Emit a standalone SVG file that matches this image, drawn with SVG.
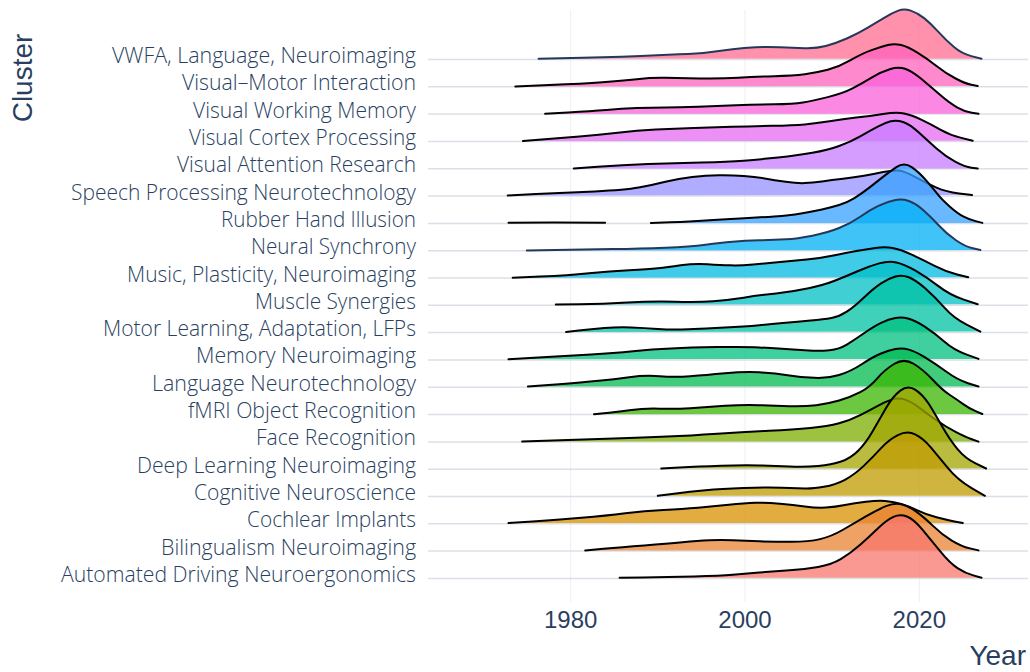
<svg xmlns="http://www.w3.org/2000/svg" width="1030" height="672" viewBox="0 0 1030 672">
<style>
.lbl{font-family:"Open Sans","Noto Sans",sans-serif;font-weight:300;font-size:22px;fill:#2a3f5f;text-anchor:end}
.tick{font-family:"Liberation Sans",Arial,sans-serif;font-size:24px;fill:#2a3f5f;text-anchor:middle}
.ttl{font-family:"Liberation Sans",Arial,sans-serif;font-size:28px;fill:#2a3f5f}
.r{stroke:#000;stroke-width:2;fill-opacity:0.75;stroke-linejoin:round;stroke-linecap:round}
.nv{stroke:#26385a}
.hg{stroke:#dcdfe7;stroke-width:1.5}
.vg{stroke:#eceef3;stroke-width:1}
</style>
<rect width="1030" height="672" fill="#fff"/>
<g id="grid">
<line class="vg" x1="570.7" y1="10" x2="570.7" y2="602"/>
<line class="vg" x1="745" y1="10" x2="745" y2="602"/>
<line class="vg" x1="919.3" y1="10" x2="919.3" y2="602"/>
<line class="hg" x1="428" y1="59.5" x2="1028" y2="59.5"/>
<line class="hg" x1="428" y1="86.8" x2="1028" y2="86.8"/>
<line class="hg" x1="428" y1="114.1" x2="1028" y2="114.1"/>
<line class="hg" x1="428" y1="141.4" x2="1028" y2="141.4"/>
<line class="hg" x1="428" y1="168.8" x2="1028" y2="168.8"/>
<line class="hg" x1="428" y1="196.1" x2="1028" y2="196.1"/>
<line class="hg" x1="428" y1="223.4" x2="1028" y2="223.4"/>
<line class="hg" x1="428" y1="250.7" x2="1028" y2="250.7"/>
<line class="hg" x1="428" y1="278" x2="1028" y2="278"/>
<line class="hg" x1="428" y1="305.3" x2="1028" y2="305.3"/>
<line class="hg" x1="428" y1="332.6" x2="1028" y2="332.6"/>
<line class="hg" x1="428" y1="359.9" x2="1028" y2="359.9"/>
<line class="hg" x1="428" y1="387.2" x2="1028" y2="387.2"/>
<line class="hg" x1="428" y1="414.5" x2="1028" y2="414.5"/>
<line class="hg" x1="428" y1="441.9" x2="1028" y2="441.9"/>
<line class="hg" x1="428" y1="469.2" x2="1028" y2="469.2"/>
<line class="hg" x1="428" y1="496.5" x2="1028" y2="496.5"/>
<line class="hg" x1="428" y1="523.8" x2="1028" y2="523.8"/>
<line class="hg" x1="428" y1="551.1" x2="1028" y2="551.1"/>
<line class="hg" x1="428" y1="578.4" x2="1028" y2="578.4"/>
</g>
<g id="ridges">
<g id="vwfa" transform="translate(0,59.5)">
<text class="lbl" x="416" y="3.5" textLength="304" lengthAdjust="spacingAndGlyphs">VWFA, Language, Neuroimaging</text>
<path class="r nv" fill="#FF6C91" d="M538.6,-0.7 L561,-1.35 Q583.3,-2 602.4,-2.35 Q621.5,-2.7 640.6,-3.5 Q659.7,-4.3 678.8,-5.15 Q697.8,-6 709.3,-7.35 Q720.8,-8.7 732.6,-10.2 Q744.4,-11.7 755.5,-12.2 Q766.6,-12.7 780,-12.2 Q793.3,-11.7 804.8,-11.35 Q816.2,-11 825.8,-13.5 Q835.3,-16 846.8,-21 Q858.2,-26 867.8,-31.85 Q877.3,-37.7 885,-42.2 Q892.6,-46.7 898.3,-48.85 Q904,-51 910.7,-48.85 Q917.4,-46.7 924.1,-41.35 Q930.7,-36 938.4,-27.65 Q946,-19.3 953.7,-12.65 Q961.3,-6 971.4,-3.35 L981.5,-0.7"/>
</g>
<g id="visual-motor" transform="translate(0,86.8)">
<text class="lbl" x="416" y="3.5" textLength="234" lengthAdjust="spacingAndGlyphs">Visual–Motor Interaction</text>
<path class="r" fill="#FF62BC" d="M515.3,-0.3 L549.3,-1.8 Q583.3,-3.3 602.4,-4.65 Q621.5,-6 636.8,-7.65 Q652,-9.3 665.4,-9 Q678.8,-8.7 699.8,-8.35 Q720.8,-8 738,-9 Q755.1,-10 774.2,-10.65 Q793.3,-11.3 804.8,-12.65 Q816.2,-14 827.7,-17 Q839.1,-20 850.6,-26.65 Q862,-33.3 871.6,-36.65 Q881.1,-40 887.8,-41.75 Q894.5,-43.5 901.2,-41.75 Q907.9,-40 917.4,-34.15 Q926.9,-28.3 936.5,-20.8 Q946,-13.3 955.6,-8.3 Q965.1,-3.3 971.4,-2 L977.7,-0.7"/>
</g>
<g id="visual-working-memory" transform="translate(0,114.1)">
<text class="lbl" x="416" y="3.5" textLength="223" lengthAdjust="spacingAndGlyphs">Visual Working Memory</text>
<path class="r" fill="#FA62DB" d="M545.1,-0.3 L568.1,-1.65 Q591,-3 606.3,-4.15 Q621.5,-5.3 636.8,-6 Q652,-6.7 665.4,-6.7 Q678.8,-6.7 697.9,-7.35 Q716.9,-8 736,-8.85 Q755.1,-9.7 774.2,-9.85 Q793.3,-10 802.9,-11.65 Q812.4,-13.3 827.7,-17 Q842.9,-20.7 852.5,-25.7 Q862,-30.7 871.6,-36.5 Q881.1,-42.3 889.7,-44.9 Q898.3,-47.5 905,-45.4 Q911.7,-43.3 921.2,-35.3 Q930.7,-27.3 940.3,-19 Q949.8,-10.7 957.5,-6.5 Q965.1,-2.3 971.8,-1.3 L978.5,-0.3"/>
</g>
<g id="visual-cortex" transform="translate(0,141.4)">
<text class="lbl" x="416" y="3.5" textLength="227" lengthAdjust="spacingAndGlyphs">Visual Cortex Processing</text>
<path class="r" fill="#E76BF3" d="M523,-0.3 L541.7,-1.8 Q560.4,-3.3 579.5,-5 Q598.6,-6.7 617.7,-8.7 Q636.8,-10.7 655.9,-11.85 Q674.9,-13 694,-13.5 Q713.1,-14 732.2,-14.65 Q751.3,-15.3 772.3,-15.65 Q793.3,-16 804.8,-17 Q816.2,-18 829.6,-20.15 Q842.9,-22.3 856.3,-23.8 Q869.7,-25.3 883.1,-27.4 Q896.4,-29.5 904.1,-27.9 Q911.7,-26.3 921.2,-21.8 Q930.7,-17.3 940.3,-11.8 Q949.8,-6.3 961.3,-3.5 L972.7,-0.7"/>
</g>
<g id="visual-attention" transform="translate(0,168.8)">
<text class="lbl" x="416" y="3.5" textLength="239" lengthAdjust="spacingAndGlyphs">Visual Attention Research</text>
<path class="r" fill="#C77CFF" d="M573.8,-0.3 L597.7,-2 Q621.5,-3.7 648.2,-4.7 Q674.9,-5.7 701.7,-6.2 Q728.4,-6.7 743.7,-8 Q758.9,-9.3 778,-11.3 Q797.1,-13.3 812.4,-16 Q827.6,-18.7 839.1,-22.85 Q850.6,-27 860.2,-32.5 Q869.7,-38 877.3,-42 Q884.9,-46 890.7,-47.5 Q896.4,-49 903.1,-46.85 Q909.7,-44.7 918.3,-36.7 Q926.9,-28.7 936.5,-20.35 Q946,-12 955.6,-7 Q965.1,-2 971.4,-1.15 L977.7,-0.3"/>
</g>
<g id="speech" transform="translate(0,196.1)">
<text class="lbl" x="416" y="3.5" textLength="345" lengthAdjust="spacingAndGlyphs">Speech Processing Neurotechnology</text>
<path class="r" fill="#9590FF" d="M507.7,-0.7 L536,-2 Q564.2,-3.3 594.8,-4.65 Q625.3,-6 638.7,-8.5 Q652,-11 665.4,-14.35 Q678.8,-17.7 692.2,-19.2 Q705.5,-20.7 718.9,-20.85 Q732.2,-21 743.7,-20.15 Q755.1,-19.3 764.7,-17.65 Q774.2,-16 785.7,-14.35 Q797.1,-12.7 804.8,-13 Q812.4,-13.3 822,-14.65 Q831.5,-16 843,-17.35 Q854.4,-18.7 864,-20.35 Q873.5,-22 883.1,-24 Q892.6,-26 898.3,-25.65 Q904,-25.3 915.5,-19 Q926.9,-12.7 936.5,-8.5 Q946,-4.3 959,-2.65 L972,-1"/>
</g>
<g id="rubber-hand" transform="translate(0,223.4)">
<text class="lbl" x="416" y="3.5" textLength="195" lengthAdjust="spacingAndGlyphs">Rubber Hand Illusion</text>
<path class="r" fill="none" d="M508.5,-0.7 Q556.8,-1.3 605.1,-0.6"/>
<path class="r" fill="#35A2FF" d="M650.9,-0.5 L670.6,-1.1 Q690.2,-1.7 705.5,-2.85 Q720.8,-4 739.9,-5 Q758.9,-6 774.2,-7 Q789.5,-8 801,-10 Q812.4,-12 822,-14 Q831.5,-16 839.1,-18.35 Q846.7,-20.7 854.4,-25.35 Q862,-30 869.7,-36 Q877.3,-42 883,-46.5 Q888.7,-51 896.4,-56.25 Q904,-61.5 911.7,-56.25 Q919.3,-51 927,-42 Q934.6,-33 938.4,-28.2 Q942.2,-23.4 949.9,-16.7 Q957.5,-10 963.2,-7 Q968.9,-4 975.6,-2.25 L982.3,-0.5"/>
</g>
<g id="neural-synchrony" transform="translate(0,250.7)">
<text class="lbl" x="416" y="3.5" textLength="165" lengthAdjust="spacingAndGlyphs">Neural Synchrony</text>
<path class="r nv" fill="#00B0F6" d="M526.8,-0.3 L555.1,-0.8 Q583.3,-1.3 612,-1.65 Q640.6,-2 665.4,-3 Q690.2,-4 705.5,-6 Q720.8,-8 732.6,-9 Q744.4,-10 759.3,-10.35 Q774.2,-10.7 785.7,-11.35 Q797.1,-12 812.4,-15 Q827.6,-18 839.1,-22.65 Q850.6,-27.3 860.2,-34 Q869.7,-40.7 878.3,-44.85 Q886.8,-49 894.5,-50.5 Q902.1,-52 908.8,-49.65 Q915.5,-47.3 923.1,-40.65 Q930.7,-34 938.4,-25.65 Q946,-17.3 955.6,-10.65 Q965.1,-4 972.8,-2.35 L980.4,-0.7"/>
</g>
<g id="music" transform="translate(0,278)">
<text class="lbl" x="416" y="3.5" textLength="289" lengthAdjust="spacingAndGlyphs">Music, Plasticity, Neuroimaging</text>
<path class="r" fill="#00BAE0" d="M512.7,-0.3 L540.4,-1.5 Q568,-2.7 589,-4.85 Q610,-7 629.1,-7.85 Q648.2,-8.7 657.8,-9.7 Q667.3,-10.7 680.7,-12.7 Q694,-14.7 707.4,-13.85 Q720.8,-13 730.3,-12.65 Q739.8,-12.3 753.2,-13.5 Q766.6,-14.7 780,-16 Q793.3,-17.3 806.7,-18.5 Q820,-19.7 833.4,-22.5 Q846.7,-25.3 856.3,-27 Q865.8,-28.7 875.4,-30 Q884.9,-31.3 892.6,-30 Q900.2,-28.7 911.7,-23.35 Q923.1,-18 934.6,-12.15 Q946,-6.3 957.1,-3.5 L968.2,-0.7"/>
</g>
<g id="muscle-synergies" transform="translate(0,305.3)">
<text class="lbl" x="416" y="3.5" textLength="161" lengthAdjust="spacingAndGlyphs">Muscle Synergies</text>
<path class="r" fill="#00BFC4" d="M555.8,-0.7 L579.1,-1 Q602.4,-1.3 627.2,-2.8 Q652,-4.3 674.9,-3.65 Q697.8,-3 713.1,-4.15 Q728.4,-5.3 743.7,-7.65 Q758.9,-10 776.1,-11.85 Q793.3,-13.7 808.6,-17 Q823.8,-20.3 835.3,-24.8 Q846.7,-29.3 858.2,-34.3 Q869.7,-39.3 879.2,-41.9 Q888.7,-44.5 896.4,-42.9 Q904,-41.3 915.5,-34.65 Q926.9,-28 938.4,-19.15 Q949.8,-10.3 963.8,-5.65 L977.7,-1"/>
</g>
<g id="motor-learning" transform="translate(0,332.6)">
<text class="lbl" x="416" y="3.5" textLength="313" lengthAdjust="spacingAndGlyphs">Motor Learning, Adaptation, LFPs</text>
<path class="r" fill="#00C1A3" d="M566.1,-0.7 L578.6,-2 Q591,-3.3 604.4,-4.5 Q617.7,-5.7 631.1,-5.2 Q644.4,-4.7 657.8,-3.7 Q671.1,-2.7 688.3,-3.35 Q705.5,-4 725,-5 Q744.4,-6 759.3,-7.35 Q774.2,-8.7 785.7,-9.85 Q797.1,-11 810.5,-12.15 Q823.8,-13.3 831.5,-14.65 Q839.1,-16 846.8,-21 Q854.4,-26 864,-35.15 Q873.5,-44.3 881.1,-49.3 Q888.7,-54.3 895.4,-56.15 Q902.1,-58 908.8,-55.35 Q915.5,-52.7 925.1,-44.35 Q934.6,-36 944.2,-25.15 Q953.7,-14.3 967.1,-7.65 L980.4,-1"/>
</g>
<g id="memory-neuroimaging" transform="translate(0,359.9)">
<text class="lbl" x="416" y="3.5" textLength="220" lengthAdjust="spacingAndGlyphs">Memory Neuroimaging</text>
<path class="r" fill="#00BF7D" d="M508.5,-0.7 L538.3,-2.5 Q568,-4.3 591,-5.5 Q613.9,-6.7 633,-8.7 Q652,-10.7 671.1,-11.5 Q690.2,-12.3 717.3,-12.8 Q744.4,-13.3 759.3,-12.5 Q774.2,-11.7 785.7,-10.85 Q797.1,-10 808.6,-9.35 Q820,-8.7 829.6,-9.7 Q839.1,-10.7 846.8,-15.35 Q854.4,-20 864,-26.65 Q873.5,-33.3 881.1,-37 Q888.7,-40.7 895.4,-41.85 Q902.1,-43 908.8,-41.15 Q915.5,-39.3 925.1,-33 Q934.6,-26.7 944.2,-18.35 Q953.7,-10 966.1,-5.5 L978.5,-1"/>
</g>
<g id="language-neurotechnology" transform="translate(0,387.2)">
<text class="lbl" x="416" y="3.5" textLength="264" lengthAdjust="spacingAndGlyphs">Language Neurotechnology</text>
<path class="r" fill="#00BB4E" d="M527.9,-0.7 L555.6,-2.7 Q583.3,-4.7 598.6,-6.35 Q613.9,-8 629.2,-10 Q644.4,-12 659.7,-11 Q674.9,-10 690.2,-11 Q705.5,-12 725,-13.85 Q744.4,-15.7 759.3,-14.85 Q774.2,-14 787.6,-12 Q800.9,-10 814.3,-9.35 Q827.6,-8.7 839.1,-12.2 Q850.6,-15.7 862.1,-23.2 Q873.5,-30.7 881.1,-33.7 Q888.7,-36.7 895.4,-38.1 Q902.1,-39.5 908.8,-37.6 Q915.5,-35.7 925.1,-29.85 Q934.6,-24 946.1,-15.65 Q957.5,-7.3 968,-4 L978.5,-0.7"/>
</g>
<g id="fmri-object-recognition" transform="translate(0,414.5)">
<text class="lbl" x="416" y="3.5" textLength="228" lengthAdjust="spacingAndGlyphs">fMRI Object Recognition</text>
<path class="r" fill="#39B600" d="M594,-0.3 L604,-1.3 Q613.9,-2.3 629.2,-4.3 Q644.4,-6.3 659.7,-5.8 Q674.9,-5.3 690.2,-6.3 Q705.5,-7.3 725,-8.65 Q744.4,-10 759.3,-9.35 Q774.2,-8.7 789.5,-8.35 Q804.7,-8 816.2,-9.35 Q827.6,-10.7 839.1,-14 Q850.6,-17.3 860.2,-22.3 Q869.7,-27.3 877.3,-36.15 Q884.9,-45 894.5,-50.75 Q904,-56.5 913.6,-50.75 Q923.1,-45 932.7,-34.75 Q942.2,-24.5 949.9,-19.5 Q957.5,-14.5 963.2,-10.35 Q968.9,-6.2 975.6,-3.35 L982.3,-0.5"/>
</g>
<g id="face-recognition" transform="translate(0,441.9)">
<text class="lbl" x="416" y="3.5" textLength="160" lengthAdjust="spacingAndGlyphs">Face Recognition</text>
<path class="r" fill="#7CAE00" d="M522.2,-0.3 L552.8,-1.3 Q583.3,-2.3 613.9,-3.3 Q644.4,-4.3 667.3,-5.3 Q690.2,-6.3 717.3,-8.15 Q744.4,-10 768.9,-11.15 Q793.3,-12.3 810.5,-14 Q827.6,-15.7 839.1,-18.7 Q850.6,-21.7 860.2,-26.7 Q869.7,-31.7 877.3,-35.85 Q884.9,-40 891.6,-42.25 Q898.3,-44.5 905,-42.25 Q911.7,-40 919.3,-34.15 Q926.9,-28.3 936.5,-21.65 Q946,-15 955.6,-10 Q965.1,-5 971.8,-2.65 L978.5,-0.3"/>
</g>
<g id="deep-learning" transform="translate(0,469.2)">
<text class="lbl" x="416" y="3.5" textLength="279" lengthAdjust="spacingAndGlyphs">Deep Learning Neuroimaging</text>
<path class="r" fill="#A3A500" d="M661.2,-0.7 L679.5,-1.7 Q697.8,-2.7 721.1,-3.5 Q744.4,-4.3 759.3,-3.8 Q774.2,-3.3 789.5,-2.65 Q804.7,-2 818.1,-3.15 Q831.5,-4.3 841.1,-7.65 Q850.6,-11 858.2,-18.5 Q865.8,-26 872.5,-37.65 Q879.2,-49.3 885.9,-61 Q892.6,-72.7 900.3,-78.6 Q907.9,-84.5 915.5,-79.4 Q923.1,-74.3 928.9,-65.15 Q934.6,-56 942.2,-42.65 Q949.8,-29.3 957.5,-20.15 Q965.1,-11 975.6,-5.85 L986.1,-0.7"/>
</g>
<g id="cognitive-neuroscience" transform="translate(0,496.5)">
<text class="lbl" x="416" y="3.5" textLength="222" lengthAdjust="spacingAndGlyphs">Cognitive Neuroscience</text>
<path class="r" fill="#C09B00" d="M657.8,-0.7 L674,-2.85 Q690.2,-5 705.5,-6.35 Q720.8,-7.7 743.7,-8.5 Q766.6,-9.3 781.9,-8.8 Q797.1,-8.3 804.8,-8 Q812.4,-7.7 823.9,-9.7 Q835.3,-11.7 844.9,-16.7 Q854.4,-21.7 864,-30.85 Q873.5,-40 881.1,-48.35 Q888.7,-56.7 897.9,-61.35 Q907.1,-66 915.1,-62.15 Q923.1,-58.3 930.8,-49.15 Q938.4,-40 948,-28.35 Q957.5,-16.7 971.2,-8.7 L984.9,-0.7"/>
</g>
<g id="cochlear-implants" transform="translate(0,523.8)">
<text class="lbl" x="416" y="3.5" textLength="169" lengthAdjust="spacingAndGlyphs">Cochlear Implants</text>
<path class="r" fill="#D89000" d="M508.5,-0.7 L532.6,-2.35 Q556.6,-4 581.4,-6 Q606.2,-8 625.3,-10.5 Q644.4,-13 663.5,-13.85 Q682.6,-14.7 697.9,-16 Q713.1,-17.3 728.8,-19 Q744.4,-20.7 755.5,-21 Q766.6,-21.3 780,-20.15 Q793.3,-19 804.8,-17.35 Q816.2,-15.7 825.8,-16.2 Q835.3,-16.7 844.9,-18.7 Q854.4,-20.7 865.9,-22 Q877.3,-23.3 885,-22.8 Q892.6,-22.3 900.3,-20.15 Q907.9,-18 917.4,-13.5 Q926.9,-9 936.5,-6.5 Q946,-4 954.4,-2.35 L962.8,-0.7"/>
</g>
<g id="bilingualism-neuroimaging" transform="translate(0,551.1)">
<text class="lbl" x="416" y="3.5" textLength="255" lengthAdjust="spacingAndGlyphs">Bilingualism Neuroimaging</text>
<path class="r" fill="#EA8331" d="M585.2,-0.7 L603.4,-2.35 Q621.5,-4 644.4,-5.65 Q667.3,-7.3 682.6,-8.8 Q697.8,-10.3 709.3,-10.8 Q720.8,-11.3 732.6,-10.8 Q744.4,-10.3 759.3,-9.8 Q774.2,-9.3 791.4,-9.3 Q808.6,-9.3 820.1,-12 Q831.5,-14.7 843,-21.35 Q854.4,-28 865.9,-34.65 Q877.3,-41.3 885.9,-44.9 Q894.5,-48.5 901.2,-46.9 Q907.9,-45.3 915.5,-40 Q923.1,-34.7 932.7,-25.5 Q942.2,-16.3 951.8,-10.5 Q961.3,-4.7 969.9,-2.7 L978.5,-0.7"/>
</g>
<g id="automated-driving" transform="translate(0,578.4)">
<text class="lbl" x="416" y="3.5" textLength="355" lengthAdjust="spacingAndGlyphs">Automated Driving Neuroergonomics</text>
<path class="r" fill="#F8766D" d="M619.6,-0.7 L643.5,-1 Q667.3,-1.3 694.1,-2 Q720.8,-2.7 732.6,-3.7 Q744.4,-4.7 759.3,-5.85 Q774.2,-7 789.5,-8.15 Q804.7,-9.3 818.1,-11.5 Q831.5,-13.7 841.1,-19.5 Q850.6,-25.3 860.2,-33.65 Q869.7,-42 878.3,-50.35 Q886.8,-58.7 893.5,-61.6 Q900.2,-64.5 906.9,-61.9 Q913.6,-59.3 922.2,-49 Q930.7,-38.7 940.3,-27 Q949.8,-15.3 957.5,-10.3 Q965.1,-5.3 973.3,-3 L981.5,-0.7"/>
</g>
</g>
<g id="axes">
<text class="tick" x="570.7" y="628">1980</text>
<text class="tick" x="745" y="628">2000</text>
<text class="tick" x="919.3" y="628">2020</text>
<text class="ttl" x="1026" y="665" text-anchor="end">Year</text>
<text class="ttl" transform="translate(32,78) rotate(-90)" text-anchor="middle">Cluster</text>
</g>
</svg>
